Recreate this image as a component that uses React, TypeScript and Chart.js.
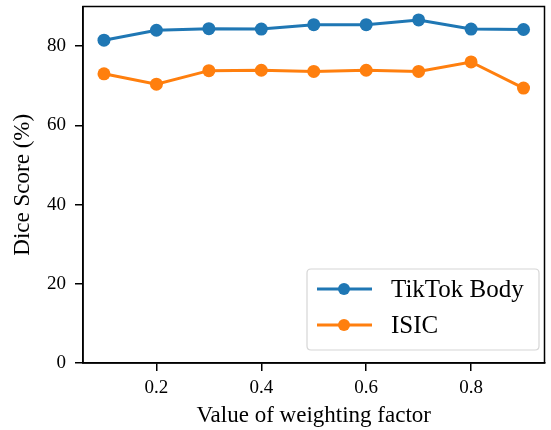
import React, { useEffect, useRef } from "react";
import { Chart, registerables } from "chart.js";
Chart.register(...registerables);

const xValues = [0.1, 0.2, 0.3, 0.4, 0.5, 0.6, 0.7, 0.8, 0.9];
const tiktok = [81.5, 84.0, 84.4, 84.3, 85.4, 85.4, 86.6, 84.3, 84.2];
const isic = [73.0, 70.4, 73.8, 73.9, 73.6, 73.9, 73.6, 76.0, 69.4];
const xTicks = [0.2, 0.4, 0.6, 0.8];
const yTicks = [0, 20, 40, 60, 80];
const seriesNames = ["TikTok Body", "ISIC"];
const colors = ["#1f77b4", "#ff7f0e"];

const FONT = "'Liberation Serif', 'Times New Roman', serif";

const framePlugin = {
  id: "frame",
  afterDraw(chart: any) {
    const { ctx, chartArea: a } = chart;
    ctx.save();
    ctx.strokeStyle = "#000";
    ctx.lineWidth = 1.5;
    ctx.strokeRect(a.left, a.top, a.right - a.left, a.bottom - a.top);
    // legend
    const bx = 307, by = 269, bw = 232, bh = 81, r = 4;
    ctx.fillStyle = "rgba(255,255,255,0.8)";
    ctx.strokeStyle = "#d6d6d6";
    ctx.lineWidth = 1.2;
    ctx.beginPath();
    ctx.moveTo(bx + r, by);
    ctx.lineTo(bx + bw - r, by);
    ctx.quadraticCurveTo(bx + bw, by, bx + bw, by + r);
    ctx.lineTo(bx + bw, by + bh - r);
    ctx.quadraticCurveTo(bx + bw, by + bh, bx + bw - r, by + bh);
    ctx.lineTo(bx + r, by + bh);
    ctx.quadraticCurveTo(bx, by + bh, bx, by + bh - r);
    ctx.lineTo(bx, by + r);
    ctx.quadraticCurveTo(bx, by, bx + r, by);
    ctx.closePath();
    ctx.fill();
    ctx.stroke();
    const rows = [289, 325];
    seriesNames.forEach((name, i) => {
      const y = rows[i];
      ctx.strokeStyle = colors[i];
      ctx.lineWidth = 3;
      ctx.beginPath();
      ctx.moveTo(317, y);
      ctx.lineTo(372, y);
      ctx.stroke();
      ctx.fillStyle = colors[i];
      ctx.beginPath();
      ctx.arc(344, y, 6, 0, Math.PI * 2);
      ctx.fill();
      ctx.fillStyle = "#000";
      ctx.font = `25px ${FONT}`;
      ctx.textBaseline = "middle";
      ctx.textAlign = "left";
      ctx.fillText(name, 391, y + 1);
    });
    ctx.restore();
  },
};

export default function App() {
  const ref = useRef<HTMLCanvasElement>(null);
  useEffect(() => {
    if (!ref.current) return;
    const mk = (data: number[], i: number) => ({
      label: seriesNames[i],
      data: xValues.map((x, j) => ({ x, y: data[j] })),
      borderColor: colors[i],
      backgroundColor: colors[i],
      borderWidth: 3,
      pointRadius: 6.5,
      pointHoverRadius: 6.5,
      pointBorderWidth: 0,
      tension: 0,
    });
    const chart = new Chart(ref.current, {
      type: "line",
      data: { datasets: [mk(tiktok, 0), mk(isic, 1)] },
      options: {
        animation: false,
        responsive: false,
        layout: { padding: { top: 5, right: 5, left: 0, bottom: 0 } },
        plugins: { legend: { display: false }, tooltip: { enabled: false } },
        scales: {
          x: {
            type: "linear",
            min: 0.06,
            max: 0.94,
            afterBuildTicks: (s: any) => {
              s.ticks = xTicks.map((v) => ({ value: v }));
            },
            afterFit: (s: any) => {
              s.height = 67;
              s.paddingLeft = 0;
              s.paddingRight = 0;
            },
            grid: { drawOnChartArea: false, drawTicks: true, tickLength: 8, color: "#000", lineWidth: 1.5 },
            border: { display: true, color: "#000", width: 1.5 },
            ticks: {
              color: "#000",
              font: { family: FONT, size: 19 },
              padding: 6,
              maxRotation: 0,
              callback: (v: any) => String(v),
            },
            title: {
              display: true,
              text: "Value of weighting factor",
              color: "#000",
              font: { family: FONT, size: 23 },
              padding: { top: 0, bottom: 0 },
            },
          },
          y: {
            type: "linear",
            min: 0,
            max: 90,
            afterBuildTicks: (s: any) => {
              s.ticks = yTicks.map((v) => ({ value: v }));
            },
            afterFit: (s: any) => {
              s.width = 83;
              s.paddingTop = 0;
              s.paddingBottom = 0;
            },
            grid: { drawOnChartArea: false, drawTicks: true, tickLength: 8, color: "#000", lineWidth: 1.5 },
            border: { display: true, color: "#000", width: 1.5 },
            ticks: { color: "#000", font: { family: FONT, size: 19 }, padding: 9 },
            title: {
              display: true,
              text: "Dice Score (%)",
              color: "#000",
              font: { family: FONT, size: 23 },
              padding: { top: 9, bottom: 0 },
            },
          },
        },
      },
      plugins: [framePlugin],
    });
    return () => chart.destroy();
  }, []);
  return (
    <canvas
      ref={ref}
      width={551}
      height={430}
      style={{ position: "absolute", left: 0, top: 0, width: 551, height: 430 }}
    />
  );
}
